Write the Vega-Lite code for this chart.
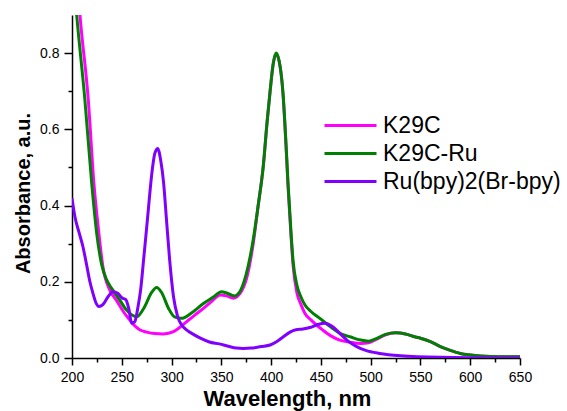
{
  "$schema": "https://vega.github.io/schema/vega-lite/v6.json",
  "width": 448,
  "height": 343,
  "autosize": "none",
  "padding": {"left": 72, "top": 15, "right": 47, "bottom": 53},
  "background": "white",
  "config": {
    "view": {"stroke": null},
    "font": "Liberation Sans",
    "axis": {"grid": false, "domainColor": "black", "tickColor": "black", "domainWidth": 1.5, "tickWidth": 1.5, "labelColor": "black", "titleColor": "black", "labelFont": "Liberation Sans", "titleFont": "Liberation Sans", "labelFontSize": 14, "titleFontWeight": "bold", "labelFlush": false, "labelOverlap": false}
  },
  "data": {"values": [
    {"series": "K29C", "wavelength": 200, "absorbance": 1.2},
    {"series": "K29C", "wavelength": 208, "absorbance": 0.9},
    {"series": "K29C", "wavelength": 216.4, "absorbance": 0.676},
    {"series": "K29C", "wavelength": 222, "absorbance": 0.458},
    {"series": "K29C", "wavelength": 227, "absorbance": 0.327},
    {"series": "K29C", "wavelength": 231, "absorbance": 0.24},
    {"series": "K29C", "wavelength": 238, "absorbance": 0.178},
    {"series": "K29C", "wavelength": 245, "absorbance": 0.15},
    {"series": "K29C", "wavelength": 252, "absorbance": 0.12},
    {"series": "K29C", "wavelength": 258, "absorbance": 0.1},
    {"series": "K29C", "wavelength": 262, "absorbance": 0.087},
    {"series": "K29C", "wavelength": 268, "absorbance": 0.074},
    {"series": "K29C", "wavelength": 275, "absorbance": 0.068},
    {"series": "K29C", "wavelength": 283, "absorbance": 0.064},
    {"series": "K29C", "wavelength": 292, "absorbance": 0.063},
    {"series": "K29C", "wavelength": 302, "absorbance": 0.069},
    {"series": "K29C", "wavelength": 308, "absorbance": 0.08},
    {"series": "K29C", "wavelength": 315, "absorbance": 0.095},
    {"series": "K29C", "wavelength": 323, "absorbance": 0.112},
    {"series": "K29C", "wavelength": 332, "absorbance": 0.13},
    {"series": "K29C", "wavelength": 340, "absorbance": 0.148},
    {"series": "K29C", "wavelength": 349, "absorbance": 0.165},
    {"series": "K29C", "wavelength": 355, "absorbance": 0.163},
    {"series": "K29C", "wavelength": 362, "absorbance": 0.157},
    {"series": "K29C", "wavelength": 369, "absorbance": 0.17},
    {"series": "K29C", "wavelength": 375.5, "absorbance": 0.21},
    {"series": "K29C", "wavelength": 382, "absorbance": 0.3},
    {"series": "K29C", "wavelength": 387, "absorbance": 0.4},
    {"series": "K29C", "wavelength": 392, "absorbance": 0.5},
    {"series": "K29C", "wavelength": 396, "absorbance": 0.62},
    {"series": "K29C", "wavelength": 399, "absorbance": 0.7},
    {"series": "K29C", "wavelength": 402, "absorbance": 0.77},
    {"series": "K29C", "wavelength": 405, "absorbance": 0.797},
    {"series": "K29C", "wavelength": 408, "absorbance": 0.78},
    {"series": "K29C", "wavelength": 412, "absorbance": 0.69},
    {"series": "K29C", "wavelength": 415, "absorbance": 0.555},
    {"series": "K29C", "wavelength": 417, "absorbance": 0.45},
    {"series": "K29C", "wavelength": 420, "absorbance": 0.32},
    {"series": "K29C", "wavelength": 422, "absorbance": 0.245},
    {"series": "K29C", "wavelength": 426, "absorbance": 0.17},
    {"series": "K29C", "wavelength": 430, "absorbance": 0.14},
    {"series": "K29C", "wavelength": 434, "absorbance": 0.117},
    {"series": "K29C", "wavelength": 440, "absorbance": 0.1},
    {"series": "K29C", "wavelength": 452, "absorbance": 0.073},
    {"series": "K29C", "wavelength": 460, "absorbance": 0.058},
    {"series": "K29C", "wavelength": 469, "absorbance": 0.047},
    {"series": "K29C", "wavelength": 480, "absorbance": 0.041},
    {"series": "K29C", "wavelength": 490, "absorbance": 0.038},
    {"series": "K29C", "wavelength": 498, "absorbance": 0.04},
    {"series": "K29C", "wavelength": 505, "absorbance": 0.048},
    {"series": "K29C", "wavelength": 515, "absorbance": 0.061},
    {"series": "K29C", "wavelength": 525, "absorbance": 0.066},
    {"series": "K29C", "wavelength": 535, "absorbance": 0.063},
    {"series": "K29C", "wavelength": 545, "absorbance": 0.055},
    {"series": "K29C", "wavelength": 550, "absorbance": 0.052},
    {"series": "K29C", "wavelength": 560, "absorbance": 0.043},
    {"series": "K29C", "wavelength": 570, "absorbance": 0.03},
    {"series": "K29C", "wavelength": 580, "absorbance": 0.02},
    {"series": "K29C", "wavelength": 590, "absorbance": 0.012},
    {"series": "K29C", "wavelength": 600, "absorbance": 0.008},
    {"series": "K29C", "wavelength": 620, "absorbance": 0.004},
    {"series": "K29C", "wavelength": 650, "absorbance": 0.003},

    {"series": "K29C-Ru", "wavelength": 200, "absorbance": 1.05},
    {"series": "K29C-Ru", "wavelength": 204.7, "absorbance": 0.9},
    {"series": "K29C-Ru", "wavelength": 213, "absorbance": 0.676},
    {"series": "K29C-Ru", "wavelength": 219.8, "absorbance": 0.458},
    {"series": "K29C-Ru", "wavelength": 224.8, "absorbance": 0.327},
    {"series": "K29C-Ru", "wavelength": 229.8, "absorbance": 0.245},
    {"series": "K29C-Ru", "wavelength": 234.8, "absorbance": 0.205},
    {"series": "K29C-Ru", "wavelength": 240, "absorbance": 0.182},
    {"series": "K29C-Ru", "wavelength": 248, "absorbance": 0.152},
    {"series": "K29C-Ru", "wavelength": 255, "absorbance": 0.125},
    {"series": "K29C-Ru", "wavelength": 265, "absorbance": 0.108},
    {"series": "K29C-Ru", "wavelength": 272, "absorbance": 0.13},
    {"series": "K29C-Ru", "wavelength": 280, "absorbance": 0.172},
    {"series": "K29C-Ru", "wavelength": 285, "absorbance": 0.185},
    {"series": "K29C-Ru", "wavelength": 290, "absorbance": 0.172},
    {"series": "K29C-Ru", "wavelength": 297, "absorbance": 0.13},
    {"series": "K29C-Ru", "wavelength": 303, "absorbance": 0.108},
    {"series": "K29C-Ru", "wavelength": 310, "absorbance": 0.104},
    {"series": "K29C-Ru", "wavelength": 320, "absorbance": 0.118},
    {"series": "K29C-Ru", "wavelength": 332, "absorbance": 0.143},
    {"series": "K29C-Ru", "wavelength": 342, "absorbance": 0.16},
    {"series": "K29C-Ru", "wavelength": 350, "absorbance": 0.174},
    {"series": "K29C-Ru", "wavelength": 356, "absorbance": 0.17},
    {"series": "K29C-Ru", "wavelength": 363, "absorbance": 0.163},
    {"series": "K29C-Ru", "wavelength": 369, "absorbance": 0.176},
    {"series": "K29C-Ru", "wavelength": 375, "absorbance": 0.22},
    {"series": "K29C-Ru", "wavelength": 382, "absorbance": 0.31},
    {"series": "K29C-Ru", "wavelength": 387, "absorbance": 0.4},
    {"series": "K29C-Ru", "wavelength": 392, "absorbance": 0.5},
    {"series": "K29C-Ru", "wavelength": 396, "absorbance": 0.62},
    {"series": "K29C-Ru", "wavelength": 399, "absorbance": 0.7},
    {"series": "K29C-Ru", "wavelength": 402, "absorbance": 0.77},
    {"series": "K29C-Ru", "wavelength": 405, "absorbance": 0.8},
    {"series": "K29C-Ru", "wavelength": 408, "absorbance": 0.78},
    {"series": "K29C-Ru", "wavelength": 412, "absorbance": 0.694},
    {"series": "K29C-Ru", "wavelength": 415, "absorbance": 0.56},
    {"series": "K29C-Ru", "wavelength": 417, "absorbance": 0.458},
    {"series": "K29C-Ru", "wavelength": 420, "absorbance": 0.33},
    {"series": "K29C-Ru", "wavelength": 422, "absorbance": 0.257},
    {"series": "K29C-Ru", "wavelength": 426, "absorbance": 0.19},
    {"series": "K29C-Ru", "wavelength": 430, "absorbance": 0.16},
    {"series": "K29C-Ru", "wavelength": 434, "absorbance": 0.139},
    {"series": "K29C-Ru", "wavelength": 440, "absorbance": 0.122},
    {"series": "K29C-Ru", "wavelength": 449, "absorbance": 0.104},
    {"series": "K29C-Ru", "wavelength": 458, "absorbance": 0.085},
    {"series": "K29C-Ru", "wavelength": 469, "absorbance": 0.065},
    {"series": "K29C-Ru", "wavelength": 480, "absorbance": 0.055},
    {"series": "K29C-Ru", "wavelength": 490, "absorbance": 0.047},
    {"series": "K29C-Ru", "wavelength": 498, "absorbance": 0.044},
    {"series": "K29C-Ru", "wavelength": 505, "absorbance": 0.05},
    {"series": "K29C-Ru", "wavelength": 515, "absorbance": 0.062},
    {"series": "K29C-Ru", "wavelength": 525, "absorbance": 0.066},
    {"series": "K29C-Ru", "wavelength": 535, "absorbance": 0.063},
    {"series": "K29C-Ru", "wavelength": 545, "absorbance": 0.055},
    {"series": "K29C-Ru", "wavelength": 550, "absorbance": 0.052},
    {"series": "K29C-Ru", "wavelength": 560, "absorbance": 0.043},
    {"series": "K29C-Ru", "wavelength": 570, "absorbance": 0.03},
    {"series": "K29C-Ru", "wavelength": 580, "absorbance": 0.02},
    {"series": "K29C-Ru", "wavelength": 590, "absorbance": 0.012},
    {"series": "K29C-Ru", "wavelength": 600, "absorbance": 0.008},
    {"series": "K29C-Ru", "wavelength": 620, "absorbance": 0.004},
    {"series": "K29C-Ru", "wavelength": 650, "absorbance": 0.003},

    {"series": "Ru(bpy)2(Br-bpy)", "wavelength": 200, "absorbance": 0.419},
    {"series": "Ru(bpy)2(Br-bpy)", "wavelength": 203, "absorbance": 0.37},
    {"series": "Ru(bpy)2(Br-bpy)", "wavelength": 207, "absorbance": 0.33},
    {"series": "Ru(bpy)2(Br-bpy)", "wavelength": 211, "absorbance": 0.292},
    {"series": "Ru(bpy)2(Br-bpy)", "wavelength": 215, "absorbance": 0.24},
    {"series": "Ru(bpy)2(Br-bpy)", "wavelength": 218, "absorbance": 0.2},
    {"series": "Ru(bpy)2(Br-bpy)", "wavelength": 221, "absorbance": 0.17},
    {"series": "Ru(bpy)2(Br-bpy)", "wavelength": 224, "absorbance": 0.145},
    {"series": "Ru(bpy)2(Br-bpy)", "wavelength": 227, "absorbance": 0.135},
    {"series": "Ru(bpy)2(Br-bpy)", "wavelength": 231, "absorbance": 0.14},
    {"series": "Ru(bpy)2(Br-bpy)", "wavelength": 236, "absorbance": 0.16},
    {"series": "Ru(bpy)2(Br-bpy)", "wavelength": 241, "absorbance": 0.174},
    {"series": "Ru(bpy)2(Br-bpy)", "wavelength": 246, "absorbance": 0.17},
    {"series": "Ru(bpy)2(Br-bpy)", "wavelength": 250, "absorbance": 0.158},
    {"series": "Ru(bpy)2(Br-bpy)", "wavelength": 254, "absorbance": 0.153},
    {"series": "Ru(bpy)2(Br-bpy)", "wavelength": 257, "absorbance": 0.13},
    {"series": "Ru(bpy)2(Br-bpy)", "wavelength": 260, "absorbance": 0.091},
    {"series": "Ru(bpy)2(Br-bpy)", "wavelength": 263, "absorbance": 0.095},
    {"series": "Ru(bpy)2(Br-bpy)", "wavelength": 266, "absorbance": 0.13},
    {"series": "Ru(bpy)2(Br-bpy)", "wavelength": 269, "absorbance": 0.18},
    {"series": "Ru(bpy)2(Br-bpy)", "wavelength": 272, "absorbance": 0.26},
    {"series": "Ru(bpy)2(Br-bpy)", "wavelength": 276, "absorbance": 0.37},
    {"series": "Ru(bpy)2(Br-bpy)", "wavelength": 280, "absorbance": 0.48},
    {"series": "Ru(bpy)2(Br-bpy)", "wavelength": 283, "absorbance": 0.535},
    {"series": "Ru(bpy)2(Br-bpy)", "wavelength": 286, "absorbance": 0.55},
    {"series": "Ru(bpy)2(Br-bpy)", "wavelength": 289, "absorbance": 0.52},
    {"series": "Ru(bpy)2(Br-bpy)", "wavelength": 292, "absorbance": 0.46},
    {"series": "Ru(bpy)2(Br-bpy)", "wavelength": 295, "absorbance": 0.36},
    {"series": "Ru(bpy)2(Br-bpy)", "wavelength": 298, "absorbance": 0.26},
    {"series": "Ru(bpy)2(Br-bpy)", "wavelength": 302, "absorbance": 0.16},
    {"series": "Ru(bpy)2(Br-bpy)", "wavelength": 306, "absorbance": 0.11},
    {"series": "Ru(bpy)2(Br-bpy)", "wavelength": 310, "absorbance": 0.087},
    {"series": "Ru(bpy)2(Br-bpy)", "wavelength": 316, "absorbance": 0.072},
    {"series": "Ru(bpy)2(Br-bpy)", "wavelength": 322, "absorbance": 0.062},
    {"series": "Ru(bpy)2(Br-bpy)", "wavelength": 329, "absorbance": 0.052},
    {"series": "Ru(bpy)2(Br-bpy)", "wavelength": 338, "absorbance": 0.042},
    {"series": "Ru(bpy)2(Br-bpy)", "wavelength": 348, "absorbance": 0.037},
    {"series": "Ru(bpy)2(Br-bpy)", "wavelength": 358, "absorbance": 0.03},
    {"series": "Ru(bpy)2(Br-bpy)", "wavelength": 365, "absorbance": 0.026},
    {"series": "Ru(bpy)2(Br-bpy)", "wavelength": 372, "absorbance": 0.025},
    {"series": "Ru(bpy)2(Br-bpy)", "wavelength": 380, "absorbance": 0.026},
    {"series": "Ru(bpy)2(Br-bpy)", "wavelength": 390, "absorbance": 0.03},
    {"series": "Ru(bpy)2(Br-bpy)", "wavelength": 399, "absorbance": 0.034},
    {"series": "Ru(bpy)2(Br-bpy)", "wavelength": 405, "absorbance": 0.042},
    {"series": "Ru(bpy)2(Br-bpy)", "wavelength": 412, "absorbance": 0.055},
    {"series": "Ru(bpy)2(Br-bpy)", "wavelength": 419, "absorbance": 0.068},
    {"series": "Ru(bpy)2(Br-bpy)", "wavelength": 425, "absorbance": 0.074},
    {"series": "Ru(bpy)2(Br-bpy)", "wavelength": 432, "absorbance": 0.076},
    {"series": "Ru(bpy)2(Br-bpy)", "wavelength": 439, "absorbance": 0.08},
    {"series": "Ru(bpy)2(Br-bpy)", "wavelength": 447, "absorbance": 0.088},
    {"series": "Ru(bpy)2(Br-bpy)", "wavelength": 454, "absorbance": 0.091},
    {"series": "Ru(bpy)2(Br-bpy)", "wavelength": 460, "absorbance": 0.085},
    {"series": "Ru(bpy)2(Br-bpy)", "wavelength": 465, "absorbance": 0.075},
    {"series": "Ru(bpy)2(Br-bpy)", "wavelength": 470, "absorbance": 0.062},
    {"series": "Ru(bpy)2(Br-bpy)", "wavelength": 477, "absorbance": 0.045},
    {"series": "Ru(bpy)2(Br-bpy)", "wavelength": 486, "absorbance": 0.03},
    {"series": "Ru(bpy)2(Br-bpy)", "wavelength": 495, "absorbance": 0.02},
    {"series": "Ru(bpy)2(Br-bpy)", "wavelength": 509, "absorbance": 0.012},
    {"series": "Ru(bpy)2(Br-bpy)", "wavelength": 530, "absorbance": 0.006},
    {"series": "Ru(bpy)2(Br-bpy)", "wavelength": 570, "absorbance": 0.002},
    {"series": "Ru(bpy)2(Br-bpy)", "wavelength": 650, "absorbance": 0.0}
  ]},
  "mark": {"type": "line", "strokeWidth": 3, "interpolate": "monotone", "clip": true},
  "encoding": {
    "x": {
      "field": "wavelength", "type": "quantitative",
      "scale": {"domain": [200, 650], "nice": false, "zero": false},
      "axis": {
        "title": "Wavelength, nm",
        "titleFontSize": 22,
        "values": [200, 225, 250, 275, 300, 325, 350, 375, 400, 425, 450, 475, 500, 525, 550, 575, 600, 625, 650],
        "labelExpr": "datum.value % 50 === 0 ? datum.value : ''",
        "tickSize": {"condition": {"test": "datum.value % 50 === 0", "value": 7}, "value": 4},
        "labelPadding": 5,
        "titleX": 215, "titleY": 47, "titleBaseline": "alphabetic", "titleAlign": "center"
      }
    },
    "y": {
      "field": "absorbance", "type": "quantitative",
      "scale": {"domain": [0, 0.9], "nice": false},
      "axis": {
        "title": "Absorbance, a.u.",
        "titleFontSize": 20,
        "values": [0, 0.1, 0.2, 0.3, 0.4, 0.5, 0.6, 0.7, 0.8],
        "labelExpr": "round(datum.value * 10) % 2 === 0 ? format(datum.value, '.1f') : ''",
        "tickSize": {"condition": {"test": "round(datum.value * 10) % 2 === 0", "value": 8}, "value": 4},
        "labelPadding": 5,
        "titleX": -43, "titleY": 178, "titleBaseline": "alphabetic", "titleAlign": "center", "titleAngle": -90
      }
    },
    "color": {
      "field": "series", "type": "nominal",
      "scale": {"domain": ["K29C", "K29C-Ru", "Ru(bpy)2(Br-bpy)"], "range": ["#FF00FF", "#008000", "#8000FF"]},
      "legend": {
        "title": null, "orient": "none", "legendX": 267, "legendY": 99,
        "symbolType": "M-2.6,0H2.6", "symbolSize": 400, "symbolStrokeWidth": 3,
        "labelFont": "Liberation Sans", "labelFontSize": 23, "labelColor": "black", "labelLimit": 0,
        "labelOffset": 21, "rowPadding": 4, "padding": 0
      }
    }
  }
}
